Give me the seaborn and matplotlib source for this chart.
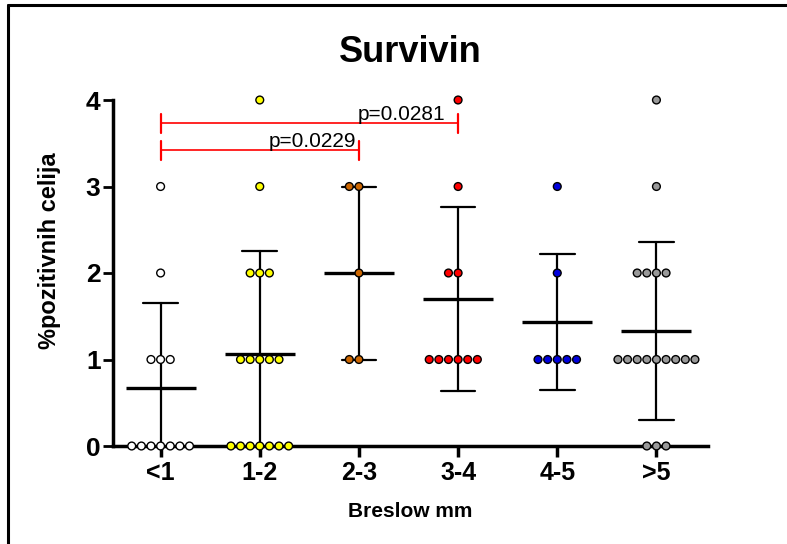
import pandas as pd
import numpy as np
import matplotlib
matplotlib.use("Agg")
import matplotlib.pyplot as plt
from matplotlib.lines import Line2D
import seaborn as sns

# Podaci: broj pozitivnih celija po Breslow grupi
grupe = ['<1', '1-2', '2-3', '3-4', '4-5', '>5']
vr_lt1 = [0, 0, 0, 0, 0, 0, 0, 1, 1, 1, 2, 3]
vr_1_2 = [0, 0, 0, 0, 0, 0, 0, 1, 1, 1, 1, 1, 2, 2, 2, 3, 4]
vr_2_3 = [1, 1, 2, 3, 3]
vr_3_4 = [1, 1, 1, 1, 1, 1, 2, 2, 3, 4]
vr_4_5 = [1, 1, 1, 1, 1, 2, 3]
vr_gt5 = [0, 0, 0, 1, 1, 1, 1, 1, 1, 1, 1, 1, 2, 2, 2, 2, 3, 4]
boje = ['#FFFFFF', '#FFFF00', '#CC6600', '#FF0000', '#0000DD', '#999999']

# p-vrijednosti (grupa od, grupa do, visina, tekst)
p_od = ['<1', '<1']
p_do = ['3-4', '2-3']
p_y = [3.73, 3.42]
p_tekst = ['p=0.0281', 'p=0.0229']

vrijednosti = [vr_lt1, vr_1_2, vr_2_3, vr_3_4, vr_4_5, vr_gt5]
df = pd.DataFrame({
    'grupa': np.repeat(grupe, [len(v) for v in vrijednosti]),
    'vrijednost': np.concatenate(vrijednosti),
})

sns.set_style('white')
plt.rcParams['font.family'] = ['Liberation Sans', 'DejaVu Sans']
plt.rcParams['text.color'] = 'black'
plt.rcParams['axes.labelcolor'] = 'black'
plt.rcParams['xtick.color'] = 'black'
plt.rcParams['ytick.color'] = 'black'

fig = plt.figure(figsize=(7.87, 5.44), dpi=100)
ax = fig.add_axes([113 / 787, 1 - 446 / 544, (708 - 113) / 787, (446 - 100) / 544])

sns.swarmplot(data=df, x='grupa', y='vrijednost', hue='grupa', order=grupe,
              palette=dict(zip(grupe, boje)), legend=False, size=5.6,
              edgecolor='black', linewidth=1.0, ax=ax)
for c in ax.collections:
    c.set_clip_on(False)
    c.set_zorder(5)

sns.pointplot(data=df, x='grupa', y='vrijednost', order=grupe, errorbar='sd',
              capsize=0.35, linestyle='none', marker='_', markersize=50,
              markeredgewidth=2.4, color='black', err_kws={'linewidth': 1.6},
              ax=ax, zorder=4)

ax.set_xlim(-0.48, 5.52)
ax.set_ylim(0, 4)
ax.set_yticks([0, 1, 2, 3, 4])
sns.despine(ax=ax)
for s in ['left', 'bottom']:
    ax.spines[s].set_linewidth(2.5)
    ax.spines[s].set_color('black')
ax.tick_params(axis='y', length=7, width=2, direction='out', left=True, pad=2,
               labelsize=19)
ax.tick_params(axis='x', length=8, width=2.5, direction='out', bottom=True, pad=3,
               labelsize=18)
for lab in ax.get_xticklabels() + ax.get_yticklabels():
    lab.set_fontweight('bold')

ax.set_title('Survivin', fontsize=26, fontweight='bold', pad=27)
ax.set_xlabel('Breslow mm', fontsize=15, fontweight='bold', labelpad=12)
ax.set_ylabel('%pozitivnih celija', fontsize=17, fontweight='bold')
ax.yaxis.set_label_coords(-0.088, 0.565)

# Linije znacajnosti
for od, do, y, t in zip(p_od, p_do, p_y, p_tekst):
    x0, x1 = grupe.index(od), grupe.index(do)
    ax.plot([x0, x1], [y, y], color='red', lw=1.2, clip_on=False)
    ax.plot([x0, x0], [y - 0.11, y + 0.11], color='red', lw=1.6, clip_on=False)
    ax.plot([x1, x1], [y - 0.11, y + 0.11], color='red', lw=1.6, clip_on=False)
    ax.text(x1 - 0.13 if do == '3-4' else x1 - 0.03, y - 0.01, t, ha='right', va='bottom',
            fontsize=15, color='black')

# Okvir slike
fig.add_artist(Line2D([8 / 787, 8 / 787], [0, 1 - 5 / 544], color='black', lw=2.2))
fig.add_artist(Line2D([8 / 787, 1], [1 - 5 / 544, 1 - 5 / 544], color='black', lw=2.2))

fig.savefig('out.png', dpi=100)
